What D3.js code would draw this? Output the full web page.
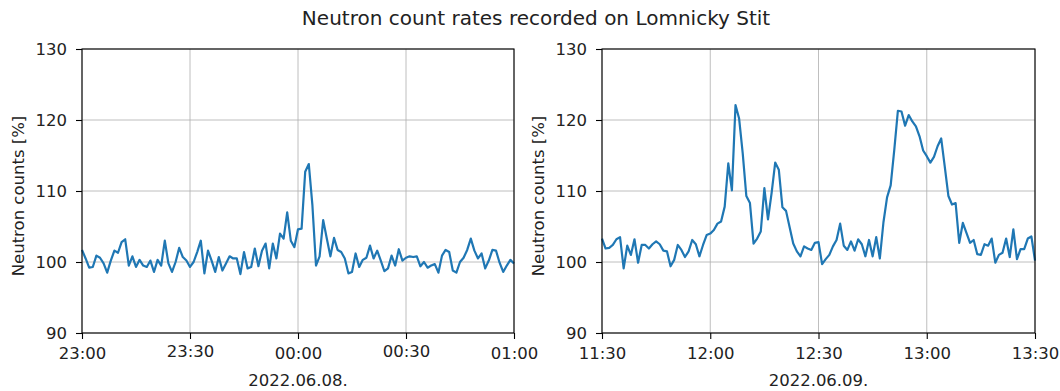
<!DOCTYPE html>
<html>
<head>
<meta charset="utf-8">
<script src="https://cdn.jsdelivr.net/npm/d3@7"></script>
<style>
  body { margin: 0; background: white; }
  text { font-family: "DejaVu Sans", sans-serif; }
</style>
</head>
<body>
<div id="graph"></div>
<script>

// one value per minute, starting at the first tick of each panel
const leftStart = '2022-06-08T23:00:00Z';
const leftCounts = [101.7,100.5,99.2,99.3,100.9,100.6,99.8,98.5,100.2,101.6,
  101.3,102.8,103.2,99.5,100.8,99.3,100.3,99.5,99.3,100.2,
  98.6,100.3,99.5,103.0,99.8,98.6,100.0,102.0,100.7,100.2,
  99.3,100.0,101.4,103.0,98.4,101.6,100.2,98.6,100.7,98.8,
  99.8,100.8,100.5,100.5,98.3,101.4,99.1,99.3,101.9,99.4,
  101.6,102.6,99.1,102.6,100.5,104.0,103.3,107.0,103.0,102.1,
  104.6,104.7,112.7,113.8,108.0,99.5,100.8,105.9,103.3,100.8,
  103.4,101.7,101.4,100.5,98.4,98.6,101.2,99.3,100.3,100.6,
  102.3,100.5,101.6,100.2,98.7,99.1,100.9,99.5,101.8,100.2,
  100.6,100.8,100.7,100.8,99.4,100.0,99.2,99.5,99.7,98.5,
  100.9,101.7,101.4,98.8,98.5,100.0,100.6,101.7,103.3,101.6,
  100.5,101.2,99.1,100.2,101.7,101.6,99.9,98.6,99.5,100.3,99.8];
const leftTicks = ['23:00', '23:30', '00:00', '00:30', '01:00'];
const leftDate = '2022.06.08.';

const rightStart = '2022-06-09T11:30:00Z';
const rightCounts = [103.3,101.9,102.0,102.4,103.2,103.5,99.1,102.3,101.0,103.2,
  99.9,102.4,102.4,101.9,102.5,102.9,102.5,101.6,101.5,99.4,
  100.3,102.4,101.7,100.7,101.5,103.1,102.5,100.8,102.4,103.8,
  104.0,104.5,105.4,105.7,107.8,113.9,110.1,122.1,120.2,115.3,
  109.3,108.3,102.6,103.3,104.3,110.4,106.0,109.7,114.0,113.0,
  107.7,107.2,104.9,102.6,101.5,100.8,102.2,101.9,101.7,102.7,
  102.8,99.7,100.4,101.0,102.2,103.1,105.4,102.3,101.7,102.9,
  101.6,103.2,102.5,100.8,103.1,100.8,103.5,100.5,105.6,109.1,
  110.8,115.8,121.3,121.2,119.2,120.7,119.8,119.1,117.7,115.7,
  114.9,114.0,114.8,116.3,117.4,113.4,109.3,108.1,108.3,102.7,
  105.5,104.1,102.7,103.1,101.1,101.0,102.5,102.3,103.3,99.9,
  101.0,101.3,103.3,100.7,104.6,100.4,101.8,101.8,103.3,103.6,100.2];
const rightTicks = ['11:30', '12:00', '12:30', '13:00', '13:30'];
const rightDate = '2022.06.09.';

const yTicks = [90, 100, 110, 120, 130];
const title = 'Neutron count rates recorded on Lomnicky Stit';
const yLabel = 'Neutron counts [%]';

const w = 1060;
const h = 391;
const top_ = 49;
const bottom = 333;
const fs = 16.5;

const svg = d3.select('#graph')
  .append('svg')
  .attr('width', w)
  .attr('height', h);

svg.append('rect').attr('width', w).attr('height', h).attr('fill', 'white');

svg.append('text')
  .text(title)
  .attr('x', 536)
  .attr('y', 25)
  .attr('text-anchor', 'middle')
  .attr('font-size', 20)
  .attr('fill', '#222');

function draw_panel(left, right, start, counts, ticks, dateLabel, raiseHalf) {
  const t0 = new Date(start);
  const data = counts.map((v, i) => ({ date: d3.utcMinute.offset(t0, i), v: v }));
  const tickDates = ticks.map((t, i) => d3.utcMinute.offset(t0, i * 30));

  const xScale = d3.scaleUtc([t0, tickDates[tickDates.length - 1]], [left, right]);
  const yScale = d3.scaleLinear([90, 130], [bottom, top_]);

  const g = svg.append('g');

  // grid
  g.selectAll('.vgrid')
    .data(tickDates)
    .join('line')
    .attr('x1', d => xScale(d)).attr('x2', d => xScale(d))
    .attr('y1', top_).attr('y2', bottom)
    .attr('stroke', '#b0b0b0').attr('stroke-width', 1).attr('opacity', 0.8);
  g.selectAll('.hgrid')
    .data(yTicks)
    .join('line')
    .attr('x1', left).attr('x2', right)
    .attr('y1', d => yScale(d)).attr('y2', d => yScale(d))
    .attr('stroke', '#b0b0b0').attr('stroke-width', 1).attr('opacity', 0.8);

  const line = d3.line()
    .x(d => xScale(d.date))
    .y(d => yScale(d.v));

  g.append('path')
    .attr('d', line(data))
    .attr('stroke', '#1f77b4')
    .attr('stroke-width', 2.2)
    .attr('stroke-linejoin', 'round')
    .attr('fill', 'none');

  const xAxis = d3.axisBottom(xScale)
    .tickValues(tickDates)
    .tickFormat((d, i) => ticks[i])
    .tickSize(6)
    .tickPadding(5);

  g.append('g')
    .attr('transform', 'translate(0,' + bottom + ')')
    .call(xAxis)
    .call(a => a.select('.domain').remove())
    .call(a => a.selectAll('.tick line').attr('stroke', 'black').attr('stroke-width', 1.1))
    .call(a => a.selectAll('.tick text')
      .attr('font-size', fs)
      .attr('fill', '#222')
      .attr('dy', (d, i) => (raiseHalf && i % 2 == 1) ? '13px' : '15px'));

  const yAxis = d3.axisLeft(yScale)
    .tickValues(yTicks)
    .tickSize(6)
    .tickPadding(9);

  g.append('g')
    .attr('transform', 'translate(' + left + ',0)')
    .call(yAxis)
    .call(a => a.select('.domain').remove())
    .call(a => a.selectAll('.tick line').attr('stroke', 'black').attr('stroke-width', 1.1))
    .call(a => a.selectAll('.tick text').attr('font-size', fs).attr('fill', '#222'));

  // box
  g.append('rect')
    .attr('x', left).attr('y', top_)
    .attr('width', right - left).attr('height', bottom - top_)
    .attr('fill', 'none').attr('stroke', 'black').attr('stroke-width', 1.1);

  g.append('text')
    .text(yLabel)
    .attr('transform', 'translate(' + (left - 58) + ',' + ((top_ + bottom) / 2 + 5) + ') rotate(-90)')
    .attr('text-anchor', 'middle')
    .attr('font-size', fs)
    .attr('fill', '#222');

  g.append('text')
    .text(dateLabel)
    .attr('x', (left + right) / 2)
    .attr('y', 386)
    .attr('text-anchor', 'middle')
    .attr('font-size', fs)
    .attr('fill', '#222');
}

draw_panel(82, 514, leftStart, leftCounts, leftTicks, leftDate, true);
draw_panel(602, 1035, rightStart, rightCounts, rightTicks, rightDate, false);

</script>
</body>
</html>
